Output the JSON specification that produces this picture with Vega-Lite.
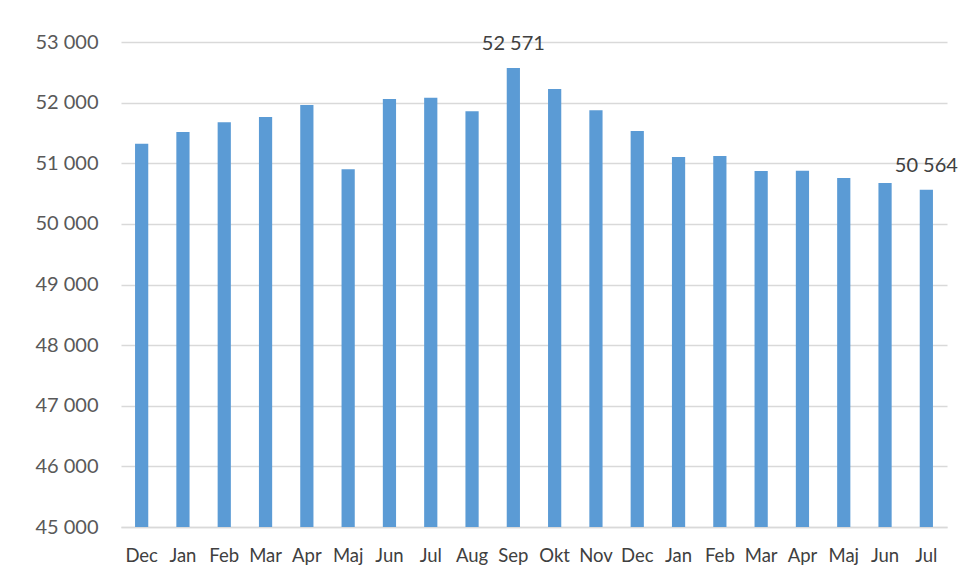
{
  "$schema": "https://vega.github.io/schema/vega-lite/v6.json",
  "width": 826,
  "height": 485,
  "autosize": {"type": "none"},
  "padding": {"left": 121, "top": 42, "right": 13, "bottom": 54},
  "background": "white",
  "data": {
    "values": [
      {"period": "Dec-1", "value": 51322},
      {"period": "Jan-2", "value": 51515},
      {"period": "Feb-2", "value": 51675},
      {"period": "Mar-2", "value": 51762},
      {"period": "Apr-2", "value": 51960},
      {"period": "Maj-2", "value": 50899},
      {"period": "Jun-2", "value": 52059},
      {"period": "Jul-2", "value": 52081},
      {"period": "Aug-2", "value": 51856},
      {"period": "Sep-2", "value": 52571, "label": "52 571"},
      {"period": "Okt-2", "value": 52224},
      {"period": "Nov-2", "value": 51873},
      {"period": "Dec-2", "value": 51531},
      {"period": "Jan-3", "value": 51102},
      {"period": "Feb-3", "value": 51119},
      {"period": "Mar-3", "value": 50871},
      {"period": "Apr-3", "value": 50876},
      {"period": "Maj-3", "value": 50756},
      {"period": "Jun-3", "value": 50673},
      {"period": "Jul-3", "value": 50564, "label": "50 564"}
    ]
  },
  "encoding": {
    "x": {
      "field": "period",
      "type": "nominal",
      "sort": null,
      "scale": {"paddingInner": 0.68, "paddingOuter": 0.34},
      "axis": {
        "title": null,
        "labelAngle": 0,
        "ticks": false,
        "domain": true,
        "domainColor": "#d9d9d9",
        "domainWidth": 1.5,
        "labelPadding": 19,
        "labelFontSize": 18.5,
        "labelColor": "#404040",
        "labelFont": "Lato",
        "labelExpr": "split(datum.label, '-')[0]"
      }
    },
    "y": {
      "field": "value",
      "type": "quantitative",
      "scale": {"domain": [45000, 53000], "zero": false, "nice": false},
      "axis": {
        "title": null,
        "values": [45000, 46000, 47000, 48000, 49000, 50000, 51000, 52000, 53000],
        "ticks": false,
        "domain": false,
        "grid": true,
        "gridColor": "#d9d9d9",
        "gridWidth": 1.5,
        "labelPadding": 23,
        "labelFontSize": 20,
        "labelColor": "#595959",
        "labelFont": "Lato",
        "labelExpr": "replace(format(datum.value, ','), ',', ' ')"
      }
    }
  },
  "layer": [
    {
      "mark": {"type": "bar", "color": "#5B9BD5", "clip": true}
    },
    {
      "transform": [{"filter": "isValid(datum.label)"}],
      "mark": {
        "type": "text",
        "baseline": "bottom",
        "dy": -14,
        "fontSize": 20,
        "font": "Lato",
        "color": "#404040"
      },
      "encoding": {
        "text": {"field": "label", "type": "nominal"}
      }
    }
  ],
  "config": {
    "view": {"stroke": null}
  }
}
